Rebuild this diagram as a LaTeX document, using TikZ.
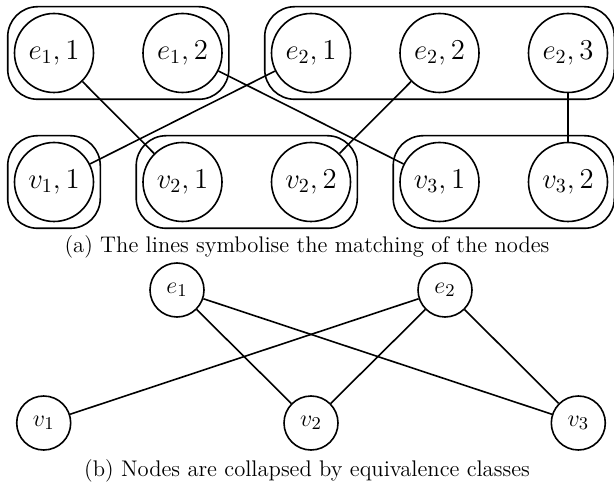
\documentclass[tikz,border=0pt]{standalone}
\usepackage{tikz}
\usetikzlibrary{fit, positioning}

\begin{document}
\begin{tikzpicture}[x=0.5pt, y=-0.5pt, every node/.style={font=\fontsize{11.3}{13.5}\selectfont},
  inst/.style={circle, draw, thick, minimum size=39.5pt, inner sep=0pt, font=\fontsize{13.6}{16}\selectfont},
  grp/.style={draw, thick, rounded corners=15pt, inner sep=3pt},
  cls/.style={circle, draw, thick, minimum size=27pt, inner sep=0pt, font=\fontsize{13.2}{16}\selectfont},
  match/.style={thick}]
\useasboundingbox (0,0) rectangle (614,485);
% Matching nodes
\node[inst] (e11) at (54,53) {$e_1,1$};
\node[inst] (e12) at (182.5,53) {$e_1,2$};
\node[inst] (e21) at (311,53) {$e_2,1$};
\node[inst] (e22) at (439.5,53) {$e_2,2$};
\node[inst] (e23) at (568,53) {$e_2,3$};
\node[inst] (v11) at (54,182) {$v_1,1$};
\node[inst] (v21) at (182.5,182) {$v_2,1$};
\node[inst] (v22) at (311,182) {$v_2,2$};
\node[inst] (v31) at (439.5,182) {$v_3,1$};
\node[inst] (v32) at (568,182) {$v_3,2$};
% Groups
\node[grp, fit=(e11)(e12)] (ge1) {};
\node[grp, fit=(e21)(e23)] (ge2) {};
\node[grp, fit=(v11)] (gv1) {};
\node[grp, fit=(v21)(v22)] (gv2) {};
\node[grp, fit=(v31)(v32)] (gv3) {};
% Matching
\draw[match] (e11) -- (v21);
\draw[match] (e12) -- (v31);
\draw[match] (e21) -- (v11);
\draw[match] (e22) -- (v22);
\draw[match] (e23) -- (v32);
\node[anchor=base] (capa) at (307,253) {(a) The lines symbolise the matching of the nodes};
% Collapsed nodes
\node[cls] (e1) at (177,290) {$e_1$};
\node[cls] (e2) at (445,290) {$e_2$};
\node[cls] (v1) at (43.7,423) {$v_1$};
\node[cls] (v2) at (311,423) {$v_2$};
\node[cls] (v3) at (578.3,423) {$v_3$};
\draw[match] (e1) -- (v2);
\draw[match] (e1) -- (v3);
\draw[match] (e2) -- (v1);
\draw[match] (e2) -- (v2);
\draw[match] (e2) -- (v3);
\node[anchor=base] (capb) at (307,476) {(b) Nodes are collapsed by equivalence classes};
\end{tikzpicture}
\end{document}
